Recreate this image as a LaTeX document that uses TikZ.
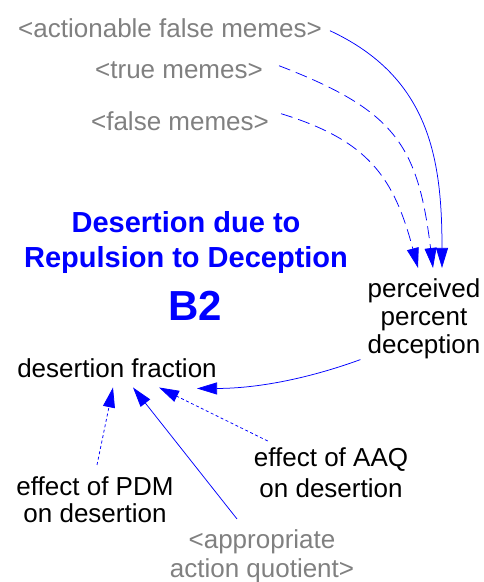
\documentclass[tikz,border=0pt]{standalone}
\usepackage{fontspec}
\setmainfont{Liberation Sans}
\usetikzlibrary{arrows.meta}

\tikzset{
  var/.style={font=\fontsize{26}{28}\selectfont, align=center, inner sep=0pt, anchor=base},
  shadowvar/.style={var, text=gray},
  looptitle/.style={font=\fontsize{29}{35}\selectfont\bfseries, align=center, inner sep=0pt, anchor=base, text=blue},
  link/.style={blue, line width=0.75pt, -{Triangle[length=20pt,width=12pt]}},
  dashlink/.style={link, dash pattern=on 12pt off 6pt},
  dotlink/.style={link, dash pattern=on 3pt off 2.5pt}
}

\begin{document}
\begin{tikzpicture}[x=1pt,y=1pt]
\useasboundingbox (0,0) rectangle (484,-582);

\node[shadowvar] (afm) at (170,-37) {<actionable false memes>};
\node[shadowvar] (tm) at (179,-78) {<true memes>};
\node[shadowvar] (fm) at (180,-130) {<false memes>};

\node[looptitle] (loopname) at (186,-267) {Desertion due to\\Repulsion to Deception};
\node[looptitle, font=\fontsize{42}{42}\selectfont\bfseries] (loopid) at (195,-320) {B2};

\node[var] (ppd) at (424,-353) {perceived\\percent\\deception};
\node[var] (df) at (117,-377) {desertion fraction};
\node[var, font=\fontsize{26}{27}\selectfont] (epdm) at (95,-522) {effect of PDM\\on desertion};
\node[var, font=\fontsize{26}{31}\selectfont] (eaaq) at (331,-497) {effect of AAQ\\on desertion};
\node[shadowvar, font=\fontsize{26}{29}\selectfont] (aaq) at (262,-577) {<appropriate\\action quotient>};

\draw[link] ([xshift=8pt,yshift=-3pt]afm.east)
  to[out=-25,in=90,looseness=1.07] ([xshift=18pt,yshift=10pt]ppd.north);
\draw[dashlink] ([xshift=16pt,yshift=4pt]tm.east)
  to[out=-21,in=97,looseness=1.25] ([xshift=9pt,yshift=10pt]ppd.north);
\draw[dashlink] ([xshift=12pt,yshift=7pt]fm.east)
  to[out=-17,in=105,looseness=1.15] ([xshift=-6pt,yshift=10pt]ppd.north);

\draw[link] ([xshift=-7pt,yshift=-1pt]ppd.south west)
  to[out=200,in=0,looseness=0.9] ([xshift=80pt,yshift=-11pt]df.south);
\draw[dotlink] ([xshift=2pt,yshift=11pt]epdm.north) -- ([xshift=-4pt,yshift=-10pt]df.south);
\draw[link] ([xshift=-25pt,yshift=10pt]aaq.north) -- ([xshift=16pt,yshift=-10pt]df.south);
\draw[dotlink] ([xshift=14pt,yshift=6pt]eaaq.north west) -- ([xshift=42pt,yshift=-10pt]df.south);
\end{tikzpicture}
\end{document}
